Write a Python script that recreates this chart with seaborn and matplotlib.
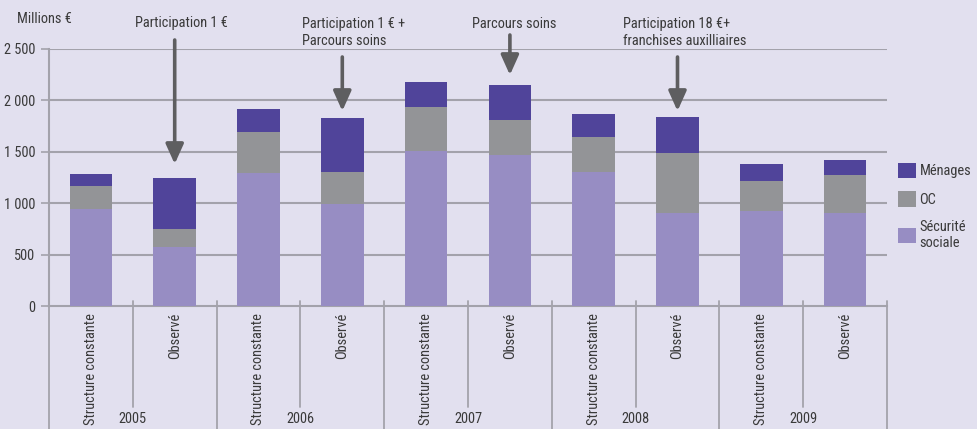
import matplotlib
matplotlib.use("Agg")
import matplotlib.pyplot as plt
import matplotlib.transforms as mtransforms
from matplotlib import font_manager as fm
from matplotlib.patches import Patch
import seaborn as sns
import pandas as pd
import numpy as np

# ---- data ----
years = ["2005", "2006", "2007", "2008", "2009"]
kinds = ["Structure constante", "Observé"]
securite_sociale = [950, 580, 1300, 997, 1506, 1474, 1309, 909, 929, 909]
oc = [222, 175, 398, 312, 435, 341, 341, 585, 292, 370]
menages = [110, 494, 215, 516, 234, 340, 214, 350, 166, 146]
series_names = ["Ménages", "OC", "Sécurité\nsociale"]
y_ticks = [0, 500, 1000, 1500, 2000, 2500]
y_tick_labels = ["0", "500", "1 000", "1 500", "2 000", "2 500"]
annotations = ["Participation 1 €", "Participation 1 € +\nParcours soins",
               "Parcours soins", "Participation 18 €+\nfranchises auxilliaires"]
annotation_bars = [1, 3, 5, 7]

BG = "#E2E0EF"
C_SS = "#978DC3"
C_OC = "#939497"
C_MEN = "#50449A"
GRID = "#A3A2AB"
TXT = "#3A3A3A"
ARROW = "#5E5E60"

sns.set_theme(style="white")

# pick a narrow font if available
fonts = fm.fontManager.ttflist
names = {f.name for f in fonts}
if "Roboto Condensed" in names:
    fam, FS = "Roboto Condensed", 10.4
elif "Liberation Sans Narrow" in names:
    fam, FS = "Liberation Sans Narrow", 10.4
elif "Lato" in names:
    fam, FS = "Lato", 9.8
else:
    fam, FS = "Liberation Sans", 9.5
plt.rcParams["font.family"] = [fam, "DejaVu Sans"]

labels = [f"{y} {k}" for y in years for k in kinds]
df = pd.DataFrame({
    "bar": labels,
    "ss": securite_sociale,
    "ss_oc": np.array(securite_sociale) + np.array(oc),
    "total": np.array(securite_sociale) + np.array(oc) + np.array(menages),
})

fig = plt.figure(figsize=(9.78, 4.29), dpi=100, facecolor=BG)
ax = fig.add_axes([49 / 978, 1 - 306.4 / 429, (887 - 49) / 978, (306.4 - 49) / 429])
ax.set_facecolor(BG)

W = 0.51
sns.barplot(data=df, x="bar", y="total", order=labels, color=C_MEN, width=W,
            saturation=1, ax=ax, zorder=3, linewidth=0)
sns.barplot(data=df, x="bar", y="ss_oc", order=labels, color=C_OC, width=W,
            saturation=1, ax=ax, zorder=3, linewidth=0)
sns.barplot(data=df, x="bar", y="ss", order=labels, color=C_SS, width=W,
            saturation=1, ax=ax, zorder=3, linewidth=0)

ax.set_xlim(-0.5, len(labels) - 0.5)
ax.set_ylim(0, 2500)
ax.set_xlabel("")
ax.set_ylabel("")
ax.set_xticks([])
ax.set_yticks(y_ticks)
ax.set_yticklabels(y_tick_labels, fontsize=FS, color=TXT)
ax.tick_params(axis="y", length=6, width=1.2, color=GRID, pad=4, left=True)

for s in ["top", "right"]:
    ax.spines[s].set_visible(False)
for s in ["left", "bottom"]:
    ax.spines[s].set_color(GRID)
    ax.spines[s].set_linewidth(1.5)

for yv in y_ticks[1:]:
    ax.axhline(yv, color=GRID, lw=1.5, zorder=1)

# separators below axis
trans = mtransforms.blended_transform_factory(ax.transData, ax.transAxes)
for i in range(len(years) + 1):
    xv = -0.5 + 2 * i
    ax.plot([xv, xv], [0.02, -0.48], transform=trans, color=GRID, lw=1.3, clip_on=False)
for i in range(len(years)):
    xv = 0.5 + 2 * i
    ax.plot([xv, xv], [0.02, -0.391], transform=trans, color=GRID, lw=1.3, clip_on=False)

# category labels
for i, lab in enumerate(labels):
    kind = lab.split(" ", 1)[1]
    ax.text(i, -0.025, kind, transform=trans, rotation=90, ha="center", va="top",
            fontsize=FS, color=TXT)
for i, y in enumerate(years):
    ax.text(0.5 + 2 * i, -0.4375, y, transform=trans, ha="center", va="center",
            fontsize=FS, color=TXT)

# unit label
fig.text(17 / 978, 1 - 19 / 429, "Millions €", ha="left", va="center", fontsize=FS, color=TXT)

# annotations with arrows
ax_h = 306.4 - 49
def py(pix):
    return (306.4 - pix) / ax_h

arrow_specs = [
    (py(40), py(164)),
    (py(57), py(111)),
    (py(35), py(75)),
    (py(57), py(111)),
]
text_pos = [
    (annotation_bars[0] + 0.08, "center", py(23)),
    (annotation_bars[1] - 0.48, "left", py(24)),
    (annotation_bars[2] - 0.45, "left", py(24)),
    (annotation_bars[3] - 0.65, "left", py(24)),
]
for (b, (y0, y1)), (tx, ha, ty), txt in zip(zip(annotation_bars, arrow_specs), text_pos, annotations):
    ax.annotate("", xy=(b, y1), xytext=(b, y0), xycoords=trans, textcoords=trans,
                arrowprops=dict(arrowstyle="-|>,head_width=0.45,head_length=1.0",
                                color=ARROW, lw=2.6, shrinkA=0, shrinkB=0),
                annotation_clip=False, zorder=5)
    if "\n" in txt:
        ax.text(tx, py(17), txt, transform=trans, ha=ha, va="top",
                fontsize=FS, color=TXT, linespacing=1.3, clip_on=False)
    else:
        ax.text(tx, ty, txt, transform=trans, ha=ha, va="center",
                fontsize=FS, color=TXT, clip_on=False)

# legend
handles = [Patch(facecolor=C_MEN, edgecolor="none"),
           Patch(facecolor=C_OC, edgecolor="none"),
           Patch(facecolor=C_SS, edgecolor="none")]
leg = fig.legend(handles, series_names, loc="upper left",
                 bbox_to_anchor=(892 / 978, 1 - 157 / 429), frameon=False,
                 fontsize=FS, handlelength=1.25, handleheight=1.25,
                 handletextpad=0.25, labelspacing=0.9, borderaxespad=0)
for t in leg.get_texts():
    t.set_color(TXT)

fig.savefig("out.png", dpi=100, facecolor=BG)
